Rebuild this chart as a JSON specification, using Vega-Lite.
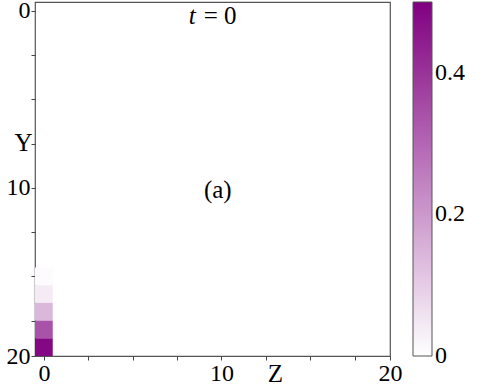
{
  "$schema": "https://vega.github.io/schema/vega-lite/v6.json",
  "width": 355,
  "height": 354,
  "autosize": "none",
  "padding": {"left": 35, "top": 2, "right": 96, "bottom": 29},
  "background": "white",
  "config": {
    "view": {"stroke": "#555555", "strokeWidth": 1.2},
    "font": "Liberation Serif",
    "axis": {
      "grid": false,
      "domain": false,
      "tickColor": "#444444",
      "tickSize": 4,
      "labelFont": "Liberation Serif",
      "labelFontSize": 24,
      "labelColor": "#000000",
      "labelPadding": 1,
      "titleFont": "Liberation Serif",
      "titleFontSize": 25,
      "titleFontWeight": "normal",
      "titleColor": "#000000",
      "labelOverlap": false,
      "labelFlush": false
    },
    "legend": {
      "labelFont": "Liberation Serif",
      "labelFontSize": 24,
      "labelColor": "#000000",
      "labelOverlap": false
    }
  },
  "datasets": {
    "cells": [
      {"Z": 0, "Y": 15, "value": 0.008},
      {"Z": 0, "Y": 16, "value": 0.04},
      {"Z": 0, "Y": 17, "value": 0.14},
      {"Z": 0, "Y": 18, "value": 0.34},
      {"Z": 0, "Y": 19, "value": 0.485}
    ],
    "notes": [
      {"Z": 9.8, "Y": 10.1, "label": "(a)"}
    ],
    "tlabel": [
      {"Z": 8.55, "Y": 0.28, "sym": "t", "rest": "= 0"}
    ]
  },
  "layer": [
    {
      "data": {"name": "cells"},
      "mark": {"type": "rect", "width": 17.75, "height": 17.7},
      "encoding": {
        "x": {
          "field": "Z",
          "type": "quantitative",
          "scale": {"domain": [-0.5, 19.5], "nice": false, "zero": false},
          "axis": {
            "values": [0, 2.5, 5, 7.5, 10, 12.5, 15, 17.5, 19.5],
            "labelExpr": "datum.value == 0 ? '0' : datum.value == 10 ? '10' : datum.value == 19.5 ? '20' : ''",
            "title": "Z",
            "titleX": 240,
            "titleY": 17,
            "titleAlign": "center",
            "titleBaseline": "middle"
          }
        },
        "y": {
          "field": "Y",
          "type": "quantitative",
          "scale": {"domain": [-0.5, 19.5], "nice": false, "zero": false, "reverse": true},
          "axis": {
            "values": [0, 2.5, 5, 7.5, 10, 12.5, 15, 17.5, 19.5],
            "labelExpr": "datum.value == 0 ? '0' : datum.value == 10 ? '10' : datum.value == 19.5 ? '20' : ''",
            "title": "Y",
            "titleAngle": 0,
            "titleX": -12,
            "titleY": 140,
            "titleAlign": "center",
            "titleBaseline": "middle"
          }
        },
        "color": {
          "field": "value",
          "type": "quantitative",
          "scale": {"domain": [0, 0.5], "range": ["#ffffff", "#800080"], "interpolate": "rgb"},
          "legend": {
            "orient": "none",
            "legendX": 378,
            "legendY": 0,
            "title": null,
            "direction": "vertical",
            "gradientLength": 354,
            "gradientThickness": 19,
            "gradientStrokeColor": "#555555",
            "gradientStrokeWidth": 1,
            "values": [0, 0.2, 0.4],
            "labelOffset": 3,
            "labelFont": "Liberation Serif",
            "labelExpr": "datum.value == 0 ? '0' : format(datum.value, '.1f')",
            "encode": {
              "labels": {"update": {"baseline": {"value": "middle"}}}
            }
          }
        }
      }
    },
    {
      "data": {"name": "notes"},
      "mark": {"type": "text", "font": "Liberation Serif", "fontSize": 25, "align": "center", "baseline": "middle", "color": "#000000"},
      "encoding": {
        "x": {"field": "Z", "type": "quantitative"},
        "y": {"field": "Y", "type": "quantitative"},
        "text": {"field": "label"}
      }
    },
    {
      "data": {"name": "tlabel"},
      "mark": {"type": "text", "font": "Liberation Serif", "fontSize": 25, "fontStyle": "italic", "align": "right", "baseline": "middle", "color": "#000000"},
      "encoding": {
        "x": {"field": "Z", "type": "quantitative"},
        "y": {"field": "Y", "type": "quantitative"},
        "text": {"field": "sym"}
      }
    },
    {
      "data": {"name": "tlabel"},
      "mark": {"type": "text", "font": "Liberation Serif", "fontSize": 25, "align": "left", "baseline": "middle", "dx": 8, "color": "#000000"},
      "encoding": {
        "x": {"field": "Z", "type": "quantitative"},
        "y": {"field": "Y", "type": "quantitative"},
        "text": {"field": "rest"}
      }
    }
  ]
}
